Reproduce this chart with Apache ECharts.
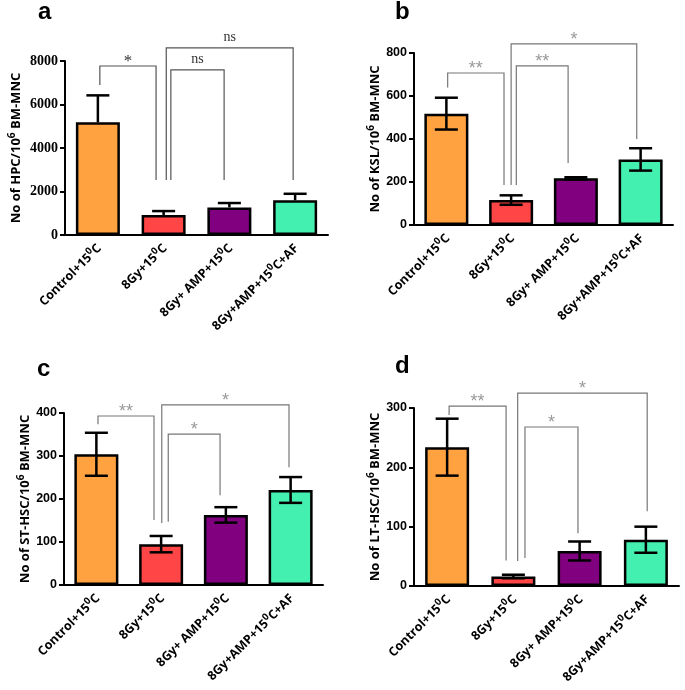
<!DOCTYPE html>
<html><head><meta charset="utf-8">
<script src="https://cdn.jsdelivr.net/npm/echarts@6/dist/echarts.min.js"></script>
<style>html,body{margin:0;padding:0;background:#fff}#c{width:685px;height:690px}</style>
</head><body><div id="c"></div>
<script>
// ---------- data ----------
const categories = ['Control+15\u2070C', '8Gy+15\u2070C', '8Gy+ AMP+15\u2070C', '8Gy+AMP+15\u2070C+AF'];

// a: HPC
const hpcMean = [5180, 920, 1270, 1595];
const hpcErr = [1240, 180, 200, 300];
const hpcAxis = [0, 8000, 2000];
// [left pos, right pos (category units), top value, left-leg end value, right-leg end value]
const hpcBrackets = [[0.03, 0.885, 7770, 6900, 2530], [1.04, 2.97, 8600, 2530, 2530], [1.11, 1.92, 7590, 2530, 2530]];
const hpcSig = ['*', 'ns', 'ns'];

// b: KSL
const kslMean = [518, 116, 217, 305];
const kslErr = [74, 22, 5, 52];
const kslAxis = [0, 800, 200];
const kslBrackets = [[0.02, 0.89, 707, 639, 186], [1.0, 2.94, 842, 186, 400], [1.08, 1.88, 740, 186, 288]];
const kslSig = ['**', '*', '**'];

// c: ST-HSC
const stMean = [304, 95, 163, 221];
const stErr = [50, 19, 18, 30];
const stAxis = [0, 400, 100];
const stBrackets = [[0.025, 0.89, 393, 374, 151], [1.01, 2.975, 419, 144, 274], [1.11, 1.91, 351, 147, 209]];
const stSig = ['**', '*', '*'];

// d: LT-HSC
const ltMean = [234, 16, 59, 78];
const ltErr = [48, 3, 16, 22];
const ltAxis = [0, 300, 100];
const ltBrackets = [[0.03, 0.89, 303, 288, 43], [1.065, 3.02, 325, 42, 126], [1.175, 1.975, 268, 47, 89]];
const ltSig = ['**', '*', '*'];

// ---------- styling / layout ----------
const barColors = ['#ffa23f', '#ff4545', '#800080', '#44f0b0'];
const SANS = 'Open Sans';

const panels = [
  { letter: 'a', name: 'HPC', mean: hpcMean, err: hpcErr, axis: hpcAxis, br: hpcBrackets, sig: hpcSig,
    grid: { left: 65, top: 61, width: 263, height: 174 }, upperOnly: true, serif: true, nameGap: 43, lpos: [38, 13] },
  { letter: 'b', name: 'KSL', mean: kslMean, err: kslErr, axis: kslAxis, br: kslBrackets, sig: kslSig,
    grid: { left: 414, top: 53, width: 259, height: 172 }, upperOnly: false, serif: false, nameGap: 33, lpos: [395, 13] },
  { letter: 'c', name: 'ST-HSC', mean: stMean, err: stErr, axis: stAxis, br: stBrackets, sig: stSig,
    grid: { left: 64, top: 413, width: 259, height: 172 }, upperOnly: false, serif: false, nameGap: 33, lpos: [37, 370] },
  { letter: 'd', name: 'LT-HSC', mean: ltMean, err: ltErr, axis: ltAxis, br: ltBrackets, sig: ltSig,
    grid: { left: 414, top: 408, width: 265, height: 178 }, upperOnly: false, serif: false, nameGap: 33, lpos: [395, 367] }
];

const supRich = {
  t: { fontFamily: SANS, fontWeight: 'bold', fontSize: 12.5, color: '#000', lineHeight: 14, padding: [4, 0, 0, 0] },
  s: { fontFamily: SANS, fontWeight: 'bold', fontSize: 9.5, color: '#000', lineHeight: 10, verticalAlign: 'top' }
};
const nameRich = {
  t: { fontFamily: SANS, fontWeight: 'bold', fontSize: 13, color: '#000', lineHeight: 15, padding: [4, 0, 0, 0] },
  s: { fontFamily: SANS, fontWeight: 'bold', fontSize: 10, color: '#000', lineHeight: 11, verticalAlign: 'top' }
};

const grids = [], xAxes = [], yAxes = [], series = [], graphics = [];

panels.forEach((p, k) => {
  grids.push(Object.assign({ outerBoundsMode: 'none', containLabel: false }, p.grid));
  xAxes.push({
    type: 'category', gridIndex: k, data: categories,
    axisLine: { lineStyle: { color: '#000', width: 2 } },
    axisTick: { alignWithLabel: true, length: 5, lineStyle: { color: '#000', width: 2 } },
    axisLabel: {
      interval: 0, rotate: 45, margin: 10,
      formatter: v => '{t|' + v.replace('\u2070', '}{s|0}{t|') + '}',
      rich: supRich
    },
    splitLine: { show: false }
  });
  yAxes.push({
    type: 'value', gridIndex: k, min: p.axis[0], max: p.axis[1], interval: p.axis[2],
    name: '{t|No of ' + p.name + '/10}{s|6}{t| BM-MNC}',
    nameLocation: 'middle', nameGap: p.nameGap, nameRotate: 90,
    nameTextStyle: { rich: nameRich },
    axisLine: { show: true, lineStyle: { color: '#000', width: 2 } },
    axisTick: { show: true, length: 5, lineStyle: { color: '#000', width: 2 } },
    axisLabel: Object.assign({ formatter: v => String(v), color: '#000', margin: 7, fontWeight: 'bold' },
      p.serif ? { fontFamily: 'Liberation Serif', fontSize: 14 } : { fontFamily: 'Liberation Sans', fontSize: 12.5 }),
    splitLine: { show: false }
  });
  series.push({
    type: 'bar', xAxisIndex: k, yAxisIndex: k, barWidth: 44,
    data: p.mean.map((v, i) => ({ value: v, itemStyle: { color: barColors[i] } })),
    itemStyle: { borderColor: '#000', borderWidth: 2.5 },
    emphasis: { disabled: true }, animation: false, z: 2
  });
  series.push({
    type: 'custom', xAxisIndex: k, yAxisIndex: k, z: 3, silent: true, animation: false,
    data: p.mean.map((v, i) => [i, v + p.err[i]]),
    renderItem: (params, api) => {
      const i = params.dataIndex, m = p.mean[i], e = p.err[i];
      const top = api.coord([i, m + e]);
      const mid = api.coord([i, m]);
      const bot = api.coord([i, m - e]);
      const hw = 11.5, st = { stroke: '#000', lineWidth: 2.5 };
      const ch = [
        { type: 'line', shape: { x1: top[0], y1: top[1], x2: top[0], y2: p.upperOnly ? mid[1] : bot[1] }, style: st },
        { type: 'line', shape: { x1: top[0] - hw, y1: top[1], x2: top[0] + hw, y2: top[1] }, style: st }
      ];
      if (!p.upperOnly) ch.push({ type: 'line', shape: { x1: bot[0] - hw, y1: bot[1], x2: bot[0] + hw, y2: bot[1] }, style: st });
      return { type: 'group', children: ch };
    }
  });
  series.push({
    type: 'custom', xAxisIndex: k, yAxisIndex: k, z: 4, silent: true, animation: false, clip: false,
    data: p.br.map(() => [0, 0]),
    renderItem: (params, api) => {
      const b = p.br[params.dataIndex], s = p.sig[params.dataIndex];
      const bw = api.size([1, 0])[0];
      const xAt = pos => { const i = Math.floor(pos); return api.coord([i, 0])[0] + (pos - i) * bw; };
      const yAt = v => api.coord([0, v])[1];
      const xl = xAt(b[0]), xr = xAt(b[1]), yt = yAt(b[2]);
      const isNs = s === 'ns';
      const txt = isNs
        ? { text: s, x: (xl + xr) / 2, y: yt - 4, align: 'center', verticalAlign: 'bottom', font: '14px "Liberation Serif"', fill: '#333' }
        : { text: s, x: (xl + xr) / 2, y: yt - 4, align: 'center', verticalAlign: 'middle',
            font: p.serif ? '17px "Liberation Serif"' : '18px "Liberation Sans"', fill: p.serif ? '#333' : '#999' };
      return {
        type: 'group', children: [
          { type: 'polyline', shape: { points: [[xl, yAt(b[3])], [xl, yt], [xr, yt], [xr, yAt(b[4])]] },
            style: { stroke: p.serif ? '#555' : '#777', lineWidth: 1.2, fill: null } },
          { type: 'text', style: txt }
        ]
      };
    }
  });
  graphics.push({ type: 'text', left: p.lpos[0], top: p.lpos[1] - 13,
    style: { text: p.letter, font: 'bold 24px "Liberation Sans"', fill: '#000' } });
});

const chart = echarts.init(document.getElementById('c'));
chart.setOption({
  backgroundColor: '#fff',
  animation: false,
  grid: grids, xAxis: xAxes, yAxis: yAxes, series: series, graphic: graphics
});
</script></body></html>
